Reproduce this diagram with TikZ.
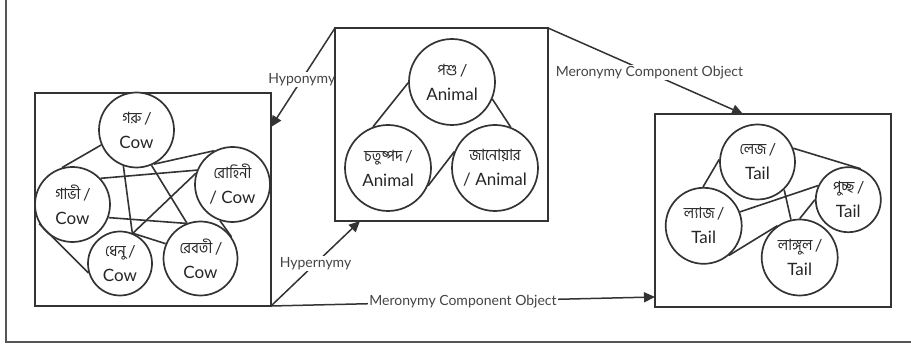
\documentclass[tikz,border=0pt]{standalone}
\usepackage{fontspec}
\setmainfont{Lato}
\newfontfamily\bn[Script=Bengali, FakeStretch=0.93]{Hind Siliguri}
\usetikzlibrary{arrows.meta}
\definecolor{ink}{HTML}{333333}
\definecolor{labelgray}{HTML}{444444}
\definecolor{framegray}{HTML}{555555}
\newcommand{\bnline}[1]{{\bn\fontsize{15.5}{25}\selectfont #1}}

\begin{document}
\begin{tikzpicture}[x=1pt,y=-1pt,
  frame/.style={draw=ink, line width=1.9pt},
  word/.style={circle, draw=ink, line width=1.7pt, fill=white, inner sep=0pt,
    align=center, font=\fontsize{17}{25}\selectfont, text=black!85},
  link/.style={draw=ink, line width=1.6pt},
  rel/.style={draw=ink, line width=1.5pt, -{Triangle[length=11pt,width=10pt]}},
  rellabel/.style={fill=white, inner sep=1pt, text=labelgray,
    font=\fontsize{14}{16}\selectfont},
]
\useasboundingbox (0,0) rectangle (911,347);

% outer frame (left and bottom edges)
\draw[framegray, line width=1.5pt] (6,0) -- (6,342) -- (911,342);

% boxes as coordinates
\coordinate (lnw) at (35,93);   \coordinate (lse) at (271,306);
\coordinate (mnw) at (335,28);  \coordinate (mse) at (548,221);
\coordinate (rnw) at (655,114); \coordinate (rse) at (891,307);

% arrow end points on the box borders
\coordinate (hypoend) at (271,127);
\coordinate (hyperend) at (360,221);
\coordinate (mne) at (548,28);
\coordinate (merotop) at (743,114);
\coordinate (merobot) at (655,297);

% relations between the groups
\draw[rel] (mnw) -- node[rellabel, pos=0.52] {Hyponymy} (hypoend);
\draw[rel] (lse) -- node[rellabel, pos=0.5] {Hypernymy} (hyperend);
\draw[rel] (mne) -- node[rellabel, pos=0.52] {Meronymy Component Object} (merotop);
\draw[rel] (lse) -- node[rellabel, pos=0.5] {Meronymy Component Object} (merobot);

% group boxes
\draw[frame, fill=white] (lnw) rectangle (lse);
\draw[frame, fill=white] (mnw) rectangle (mse);
\draw[frame, fill=white] (rnw) rectangle (rse);

% cow group
\node[word, minimum size=75pt] (goru)  at (136.5,130) {\bnline{গরু /}\\Cow};
\node[word, minimum size=75pt] (gabhi) at (72.5,204.5) {\bnline{গাভী /}\\Cow};
\node[word, minimum size=75pt] (rohini) at (232.5,184.5) {\bnline{রোহিনী}\\/ Cow};
\node[word, minimum size=64pt] (dhenu) at (120,263.5) {\bnline{ধেনু /}\\Cow};
\node[word, minimum size=74pt] (reboti) at (200.5,258.5) {\bnline{রেবতী /}\\Cow};

\draw[link] (goru.203) -- (gabhi.106);
\draw[link] (goru.297) -- (rohini.118);
\draw[link] (gabhi.43) -- (rohini.158);
\draw[link] (goru.250) -- (dhenu.68);
\draw[link] (goru.293) -- (reboti.111);
\draw[link] (rohini.163) -- (dhenu.67);
\draw[link] (gabhi.340) -- (reboti.112);
\draw[link] (rohini.251) -- (reboti.35);
\draw[link] (dhenu.67) -- (reboti.157);
\draw[link] (gabhi.210) -- (dhenu.197);

% animal group
\node[word, minimum size=86pt] (poshu) at (452,82) {\bnline{পশু /}\\Animal};
\node[word, minimum size=86pt] (chotushpod) at (388,168) {\bnline{চতুষ্পদ /}\\Animal};
\node[word, minimum size=86pt] (janoyar) at (495,168) {\bnline{জানোয়ার}\\/ Animal};

\draw[link] (poshu.181) -- (chotushpod.110);
\draw[link] (poshu.337) -- (janoyar.69);
\draw[link] (chotushpod.336) -- (janoyar.158);

% tail group
\node[word, minimum size=75pt] (lej) at (757.5,162) {\bnline{লেজ /}\\Tail};
\node[word, minimum size=65pt] (puchchho) at (848.3,199.7) {\bnline{পুচ্ছ /}\\Tail};
\node[word, minimum size=76pt] (lyaj) at (703.7,225.8) {\bnline{ল্যাজ /}\\Tail};
\node[word, minimum size=76pt] (langul) at (799.7,257.5) {\bnline{লাঙ্গুল /}\\Tail};

\draw[link] (lej.176) -- (lyaj.91);
\draw[link] (lej.21) -- (puchchho.68);
\draw[link] (lyaj.21) -- (puchchho.155);
\draw[link] (lej.314) -- (langul.103);
\draw[link] (puchchho.180) -- (langul.90);
\draw[link] (lyaj.310) -- (langul.125);
\end{tikzpicture}
\end{document}
